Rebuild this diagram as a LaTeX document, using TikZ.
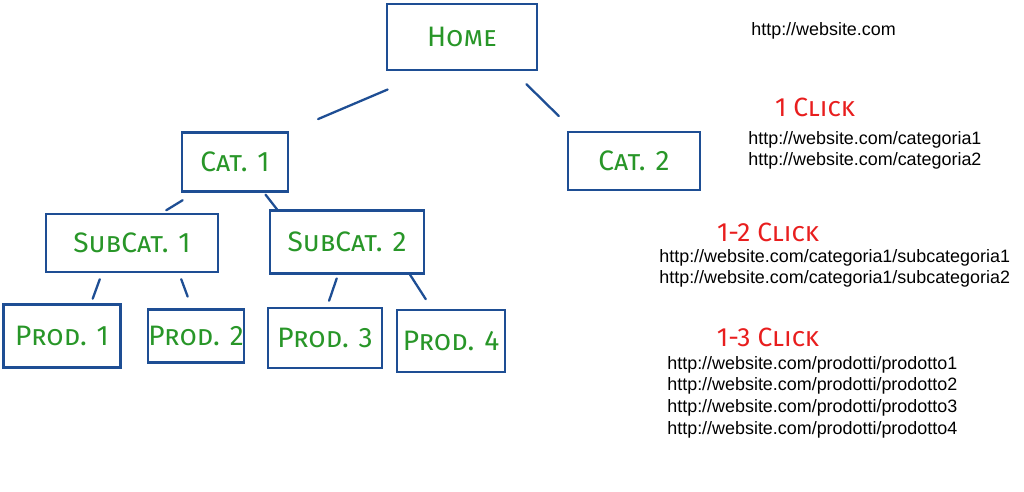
\documentclass[tikz,border=0pt]{standalone}
\usepackage{fontspec}
\setmainfont{Liberation Sans}
\newfontfamily\handfont{Fira Sans}[Letters=SmallCaps]
\usepackage{tikz}
\definecolor{penblue}{RGB}{30,78,148}
\definecolor{pengreen}{RGB}{40,150,40}
\definecolor{penred}{RGB}{232,30,30}

\begin{document}
\begin{tikzpicture}[x=0.02cm, y=-0.02cm,
  pagebox/.style={draw=penblue, line width=1.3pt, text=pengreen, inner sep=0pt, font=\handfont\fontsize{16}{19}\selectfont},
  link/.style={draw=penblue, line width=1.3pt, line cap=round},
  url/.style={anchor=north west, inner sep=0pt, align=left, font=\fontsize{10.2}{12.3}\selectfont},
  clicks/.style={text=penred, inner sep=0pt, font=\handfont\fontsize{15}{18}\selectfont}]
  \useasboundingbox (0,0) rectangle (1024,491);

  % Site tree
  \node[pagebox, minimum width=3.0cm, minimum height=1.32cm] (home) at (462,37) {Home};
  \node[pagebox, minimum width=2.12cm, minimum height=1.18cm] (cat1) at (235,162) {Cat. 1};
  \node[pagebox, minimum width=2.64cm, minimum height=1.16cm] (cat2) at (634,161) {Cat. 2};
  \node[pagebox, minimum width=3.44cm, minimum height=1.16cm] (subcat1) at (132,243) {SubCat. 1};
  \node[pagebox, minimum width=3.08cm, minimum height=1.26cm] (subcat2) at (347,242) {SubCat. 2};
  \node[pagebox, minimum width=2.34cm, minimum height=1.26cm] (prod1) at (62,336) {Prod. 1};
  \node[pagebox, minimum width=1.88cm, minimum height=1.06cm] (prod2) at (196,336) {Prod. 2};
  \node[pagebox, minimum width=2.28cm, minimum height=1.2cm] (prod3) at (325,338) {Prod. 3};
  \node[pagebox, minimum width=2.16cm, minimum height=1.24cm] (prod4) at (451,341) {Prod. 4};

  % Links (short strokes between the boxes)
  \draw[link, shorten <=0.94cm, shorten >=0.63cm] ([xshift=0.9cm]home.south west) -- (cat1.north east);
  \draw[link, shorten <=0.37cm, shorten >=0.42cm] ([xshift=-0.5cm]home.south east) -- ([xshift=0.14cm]cat2.north west);
  \draw[link, shorten <=0.29cm, shorten >=0.1cm] ([xshift=-0.8cm]cat1.south) -- ([xshift=0.6cm]subcat1.north);
  \draw[link, shorten <=0.05cm] ([xshift=0.58cm]cat1.south) -- ([xshift=-1.4cm]subcat2.north);
  \draw[link, shorten <=0.13cm, shorten >=0.1cm] ([xshift=-0.6cm]subcat1.south) -- ([xshift=0.58cm]prod1.north);
  \draw[link, shorten <=0.13cm, shorten >=0.25cm] ([xshift=0.94cm]subcat1.south) -- ([xshift=-0.08cm]prod2.north);
  \draw[link, shorten <=0.08cm, shorten >=0.13cm] ([xshift=-0.18cm]subcat2.south) -- ([xshift=0.04cm]prod3.north);
  \draw[link, shorten >=0.23cm] ([xshift=1.26cm]subcat2.south) -- ([xshift=-0.38cm]prod4.north);

  % URLs per level
  \node[url] (root) at (751,22) {http://website.com};
  \node[clicks] (one) at (815,107) {1 Click};
  \node[url] (lvl1) at (748,131) {http://website.com/categoria1\\http://website.com/categoria2};
  \node[clicks] (two) at (768,232) {1-2 Click};
  \node[url] (lvl2) at (659,249) {http://website.com/categoria1/subcategoria1\\http://website.com/categoria1/subcategoria2};
  \node[clicks] (three) at (768,337) {1-3 Click};
  \node[url] (lvl3) at (667,356) {http://website.com/prodotti/prodotto1\\http://website.com/prodotti/prodotto2\\http://website.com/prodotti/prodotto3\\http://website.com/prodotti/prodotto4};

\end{tikzpicture}
\end{document}
